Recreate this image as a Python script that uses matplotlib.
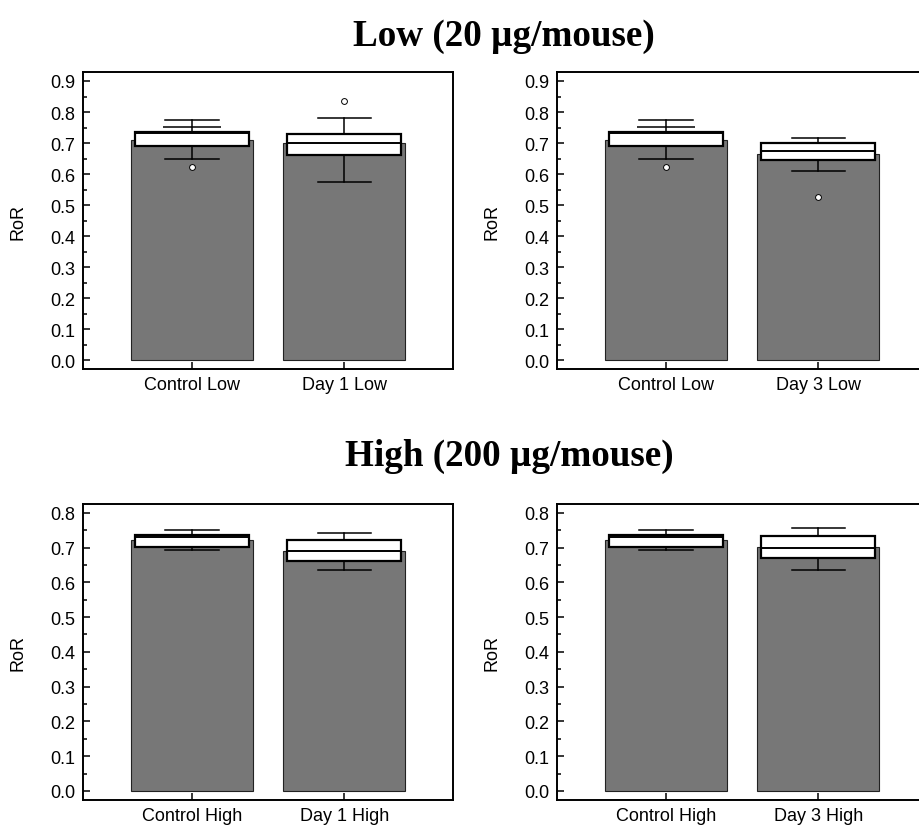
import matplotlib.pyplot as plt
from matplotlib.ticker import MultipleLocator

plt.rcParams["font.family"] = ["Liberation Sans", "DejaVu Sans"]

# panel contents: (categories, bar means, box stats)
low_day1_labels = ["Control Low", "Day 1 Low"]
low_day3_labels = ["Control Low", "Day 3 Low"]
high_day1_labels = ["Control High", "Day 1 High"]
high_day3_labels = ["Control High", "Day 3 High"]

control_low_mean = 0.711
day1_low_mean = 0.700
day3_low_mean = 0.666
control_high_mean = 0.723
day1_high_mean = 0.691
day3_high_mean = 0.701

# q1, median, q3, lower whisker, upper whisker, outliers
control_low_box = [0.692, 0.734, 0.737, 0.648, 0.774, [0.623]]
day1_low_box = [0.661, 0.700, 0.728, 0.575, 0.781, [0.836]]
day3_low_box = [0.647, 0.675, 0.699, 0.611, 0.717, [0.526]]
control_high_box = [0.702, 0.729, 0.737, 0.694, 0.749, []]
day1_high_box = [0.661, 0.691, 0.723, 0.634, 0.742, []]
day3_high_box = [0.670, 0.699, 0.733, 0.635, 0.757, []]

# extra percentile line drawn on the control low whisker
control_low_extra = 0.753

W, H = 919, 829


def make_stats(box):
    q1, med, q3, lo, hi, fl = box
    return {"q1": q1, "med": med, "q3": q3, "whislo": lo, "whishi": hi, "fliers": fl}


def draw_panel(ax, labels, means, boxes, ymax, extra=None):
    pos = [1, 2]
    ax.bar(pos, means, width=0.8, color="#777777", edgecolor="#222222", linewidth=0.8, zorder=1)
    ax.bxp(
        [make_stats(b) for b in boxes],
        positions=pos,
        widths=0.75,
        patch_artist=True,
        manage_ticks=False,
        boxprops=dict(facecolor="white", edgecolor="black", linewidth=1.6),
        medianprops=dict(color="black", linewidth=1.4),
        whiskerprops=dict(color="black", linewidth=1.1),
        capprops=dict(color="black", linewidth=1.1),
        capwidths=0.35,
        flierprops=dict(marker="o", markerfacecolor="white", markeredgecolor="black",
                        markersize=4.2, markeredgewidth=0.7),
        zorder=3,
    )
    if extra is not None:
        ax.hlines(extra, 1 - 0.19, 1 + 0.19, color="black", linewidth=1.1, zorder=4)
    ax.set_xlim(0.282, 2.716)
    pad = (ymax + 0.1) * 0.028
    ax.set_ylim(-pad, ymax + pad)
    ax.set_xticks(pos)
    ax.set_xticklabels(labels)
    ax.yaxis.set_major_locator(MultipleLocator(0.1))
    ax.yaxis.set_minor_locator(MultipleLocator(0.05))
    ax.yaxis.set_major_formatter(plt.FormatStrFormatter("%.1f"))
    ax.tick_params(axis="y", which="major", direction="in", length=5, width=1.1, labelsize=13, pad=5.5)
    ax.tick_params(axis="y", which="minor", direction="in", length=3, width=1.1)
    ax.tick_params(axis="x", direction="in", length=5, width=1.1, labelsize=13, pad=5)
    ax.tick_params(top=False, right=False)
    for s in ax.spines.values():
        s.set_linewidth(1.4)
    ax.set_ylabel("RoR", fontsize=13)
    ax.yaxis.set_label_coords(-0.152, 0.5)


fig = plt.figure(figsize=(W / 100, H / 100), dpi=100)

ax_w = 370.6 / W
top_b = 1 - 370 / H
top_h = 296.7 / H
bot_b = 1 - 800.7 / H
bot_h = 295.7 / H
left1 = 82.7 / W
left2 = 556.7 / W

ax1 = fig.add_axes([left1, top_b, ax_w, top_h])
ax2 = fig.add_axes([left2, top_b, ax_w, top_h])
ax3 = fig.add_axes([left1, bot_b, ax_w, bot_h])
ax4 = fig.add_axes([left2, bot_b, ax_w, bot_h])

draw_panel(ax1, low_day1_labels, [control_low_mean, day1_low_mean],
           [control_low_box, day1_low_box], 0.9, control_low_extra)
draw_panel(ax2, low_day3_labels, [control_low_mean, day3_low_mean],
           [control_low_box, day3_low_box], 0.9, control_low_extra)
draw_panel(ax3, high_day1_labels, [control_high_mean, day1_high_mean],
           [control_high_box, day1_high_box], 0.8)
draw_panel(ax4, high_day3_labels, [control_high_mean, day3_high_mean],
           [control_high_box, day3_high_box], 0.8)

fig.text(504 / W, 1 - 46 / H, "Low (20 µg/mouse)", ha="center", va="baseline",
         fontsize=26.7, fontweight="bold", family="Liberation Serif")
fig.text(509 / W, 1 - 466 / H, "High (200 µg/mouse)", ha="center", va="baseline",
         fontsize=26.7, fontweight="bold", family="Liberation Serif")

fig.savefig("out.png", dpi=100)
